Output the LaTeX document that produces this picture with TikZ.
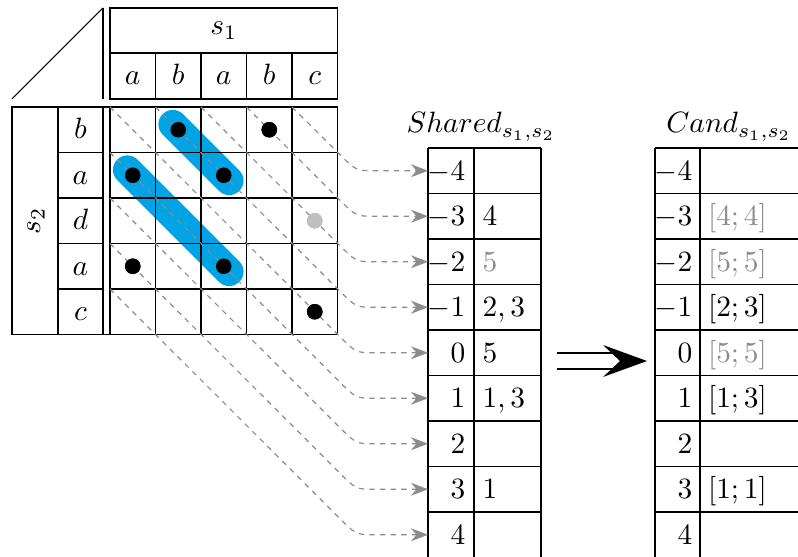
\documentclass[tikz,border=0pt]{standalone}
\usetikzlibrary{arrows.meta}
\definecolor{bandblue}{RGB}{0,163,228}
\begin{document}
\begin{tikzpicture}[x=0.34pt,y=-0.34pt,
  grid/.style={line width=0.36pt},
  diag/.style={black!45, line width=0.4pt, dash pattern=on 1.8pt off 1.8pt},
  diagarrow/.style={diag, -{Stealth[length=5.8pt,width=4.4pt]}},
  dot/.style={circle, fill=black, inner sep=0pt, minimum size=5.3pt},
  greydot/.style={dot, fill=black!25},
  band/.style={bandblue, line width=9.8pt, line cap=round, shorten >=-2.6pt, shorten <=-2.6pt},
  lbl/.style={inner sep=0pt, anchor=base},
  lnum/.style={inner sep=0pt, anchor=base east},
  rnum/.style={inner sep=0pt, anchor=base west},
  faded/.style={text=black!45}]
\useasboundingbox (0,0) rectangle (798,556);

% dots (nodes)
\node[dot] (p10) at (178.25,129.75) {};
\node[dot] (p30) at (269.25,129.75) {};
\node[dot] (p01) at (132.75,175.25) {};
\node[dot] (p21) at (223.75,175.25) {};
\node[greydot] (p42) at (314.75,220.75) {};
\node[dot] (p03) at (132.75,266.25) {};
\node[dot] (p23) at (223.75,266.25) {};
\node[dot] (p44) at (314.75,311.75) {};

% blue bands
\draw[band] (p10.center) -- (p21.center);
\draw[band] (p01.center) -- (p23.center);

% header
\draw[grid] (110,8) rectangle (337.5,99);
\draw[grid] (110,53) -- (337.5,53);
\foreach \c in {1,...,4} \draw[grid] ({110+45.5*\c},53) -- ({110+45.5*\c},99);
\draw[grid] (103,8) -- (103,99);
\draw[grid] (12,99) -- (103,8);
\node[lbl] (s1) at (223.75,35) {$s_1$};
\foreach \l [count=\i from 0] in {a,b,a,b,c}
  \node[lbl] (h\i) at ({132.75+45.5*\i},85) {$\l$};

% matrix body
\draw[grid] (12,107) rectangle (337.5,334.5);
\draw[grid] (58,107) -- (58,334.5);
\draw[grid] (103,107) -- (103,334.5);
\draw[grid] (110,107) -- (110,334.5);
\foreach \c in {1,...,4} \draw[grid] ({110+45.5*\c},107) -- ({110+45.5*\c},334.5);
\foreach \r in {1,...,4} {
  \draw[grid] (58,{107+45.5*\r}) -- (103,{107+45.5*\r});
  \draw[grid] (110,{107+45.5*\r}) -- (337.5,{107+45.5*\r});
}
\node[rotate=90, inner sep=0pt] (s2) at (36,220.75) {$s_2$};
\foreach \l [count=\i from 0] in {b,a,d,a,c}
  \node[lbl] (v\i) at (80.5,{129.75+45.5*\i+9}) {$\l$};

% diagonal start coordinates
\foreach \k in {-4,...,0} \coordinate (d\k) at ({110-45.5*\k},107);
\foreach \k in {1,...,4} \coordinate (d\k) at (110,{107+45.5*\k});
% table row targets
\foreach \k in {-4,...,4} \coordinate (sh\k) at (428,{352.75+45.5*\k});

% Shared table
\node[lbl] (sharedtitle) at (481,133) {$Shared_{s_1,s_2}$};
\draw[grid] (428,148) -- (428,580);
\draw[grid] (474,148) -- (474,580);
\draw[grid] (541,148) -- (541,580);
\foreach \i in {0,...,8} \draw[grid] (428,{148+45.5*\i}) -- (541,{148+45.5*\i});
\foreach \k in {-4,...,4} \node[lnum] (sl\k) at (466,{352.75+45.5*\k+9.5}) {$\k$};
\node[rnum] (sr-3) at (482,{352.75-3*45.5+9.5}) {$4$};
\node[rnum,faded] (sr-2) at (482,{352.75-2*45.5+9.5}) {$5$};
\node[rnum] (sr-1) at (482,{352.75-1*45.5+9.5}) {$2,3$};
\node[rnum] (sr0) at (482,{352.75+9.5}) {$5$};
\node[rnum] (sr1) at (482,{352.75+1*45.5+9.5}) {$1,3$};
\node[rnum] (sr3) at (482,{352.75+3*45.5+9.5}) {$1$};

% Cand table
\node[lbl] (candtitle) at (729,133) {$Cand_{s_1,s_2}$};
\draw[grid] (655,148) -- (655,580);
\draw[grid] (700,148) -- (700,580);
\foreach \i in {0,...,8} \draw[grid] (655,{148+45.5*\i}) -- (820,{148+45.5*\i});
\foreach \k in {-4,...,4} \node[lnum] (cl\k) at (693,{352.75+45.5*\k+9.5}) {$\k$};
\node[rnum,faded] (cr-3) at (707.5,{352.75-3*45.5+9.5}) {$[4;4]$};
\node[rnum,faded] (cr-2) at (707.5,{352.75-2*45.5+9.5}) {$[5;5]$};
\node[rnum] (cr-1) at (707.5,{352.75-1*45.5+9.5}) {$[2;3]$};
\node[rnum,faded] (cr0) at (707.5,{352.75+9.5}) {$[5;5]$};
\node[rnum] (cr1) at (707.5,{352.75+1*45.5+9.5}) {$[1;3]$};
\node[rnum] (cr3) at (707.5,{352.75+3*45.5+9.5}) {$[1;1]$};

% dashed diagonals to Shared rows
\foreach \k in {-4,...,4}
  \draw[diagarrow] (d\k) -- ({356-18},{352.75+45.5*\k-18})
     .. controls ({356},{352.75+45.5*\k}) .. ({356+18},{352.75+45.5*\k}) -- (sh\k);

% redraw dots on top
\foreach \p in {p10,p30,p01,p21,p03,p23,p44} \node[dot] at (\p) {};
\node[greydot] at (p42) {};

% big arrow
\coordinate (ba1) at (557,361);
\coordinate (ba2) at (614,361);
\coordinate (batip) at (647,361);
\draw[line width=0.75pt, double distance=4.7pt] (ba1) -- (ba2);
\fill (603,345) -- (batip) -- (603,377) -- (620,361) -- cycle;
\end{tikzpicture}
\end{document}
